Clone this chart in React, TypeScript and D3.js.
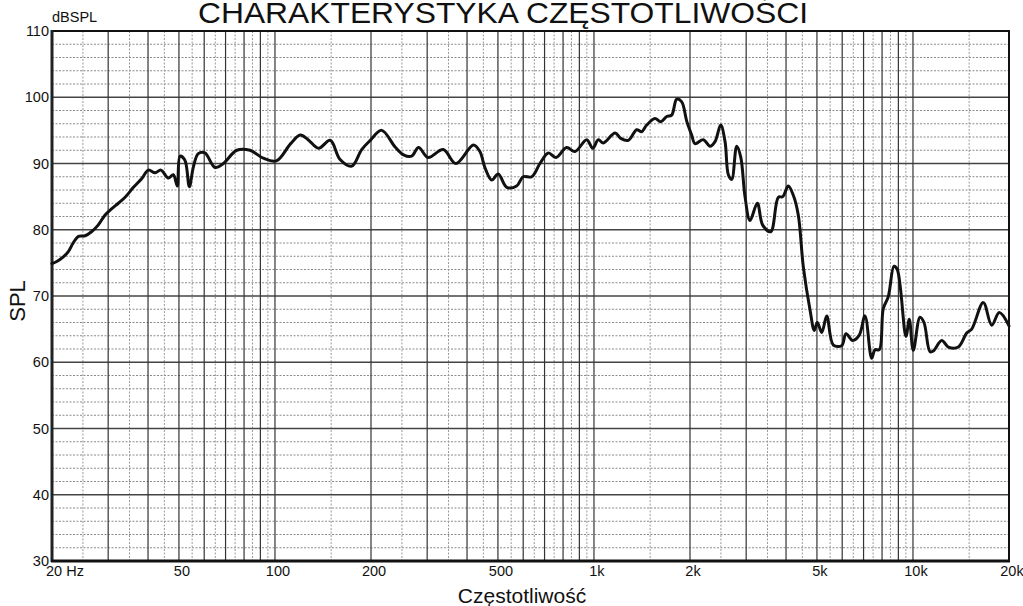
import React from 'react';
import * as d3 from 'd3';

const freqHz = [
  20, 20.7, 21.7, 22.5, 23.3, 24.2, 25.4, 26.6, 27.9, 29.3, 30.8, 32.3, 33.9, 36, 38.2, 40.1,
  42.1, 43.9, 46.3, 48, 49.4, 50.4, 52.2, 53.9, 55.5, 57.5, 60.3, 64.9, 68.9, 75.9, 83.5, 91.9,
  101, 112, 120, 127, 137, 149, 160, 174, 187, 199, 216, 238, 253, 268, 282, 302, 337, 369,
  419, 439, 455, 478, 501, 533, 572, 600, 638, 677, 719, 760, 821, 872, 949, 991, 1032, 1070,
  1164, 1213, 1281, 1361, 1411, 1463, 1553, 1619, 1691, 1752, 1817, 1884, 1953, 2024, 2074,
  2202, 2311, 2396, 2496, 2576, 2638, 2703, 2802, 2884, 2975, 3084, 3251, 3380, 3581, 3783,
  3906, 4066, 4216, 4371, 4532, 4757, 4906, 5013, 5177, 5366, 5628, 5978, 6167, 6471, 6787,
  7072, 7422, 7602, 7842, 8071, 8368, 8720, 8930, 9508, 9737, 10023, 10520, 10828, 11308,
  11580, 12304, 12906, 13873, 14738, 15280, 16614, 17652, 18648, 20000,
];
const splDb = [
  74.9, 75.2, 75.9, 76.7, 78.0, 79.0, 79.1, 79.7, 80.7, 82.2, 83.2, 84.0, 84.9, 86.4, 87.7, 89.0,
  88.6, 89.0, 87.8, 88.3, 86.6, 91.1, 90.5, 86.5, 89.5, 91.5, 91.6, 89.4, 90.0, 92.0, 92.0, 90.8,
  90.4, 93.0, 94.3, 93.6, 92.3, 93.5, 90.6, 89.6, 92.1, 93.5, 95.0, 92.5, 91.3, 91.1, 92.4, 90.9, 92.1, 90.0,
  92.8, 91.8, 89.4, 87.5, 88.4, 86.4, 86.6, 88.0, 88.0, 90.0, 91.6, 90.9, 92.4, 91.8, 93.6, 92.3, 93.6, 93.1,
  94.6, 93.8, 93.5, 95.1, 94.8, 95.8, 96.8, 96.3, 97.1, 97.3, 99.7, 99.3, 96.4, 94.3, 93.0,
  93.6, 92.6, 93.3, 95.8, 93.3, 88.3, 87.6, 92.6, 91.0, 85.0, 81.4, 84.0, 80.7, 79.7, 84.9,
  85.0, 86.6, 85.2, 82.2, 74.4, 67.9, 64.8, 66.0, 64.5, 67.0, 62.6, 62.5, 64.3, 63.3, 64.1,
  67.0, 60.6, 61.9, 61.9, 68.1, 69.9, 74.5, 74.0, 63.9, 66.5, 61.8, 66.8, 66.0, 61.6,
  61.7, 63.3, 62.3, 62.3, 64.4, 65.0, 69.0, 65.6, 67.5, 65.5,
];

const xTickValues = [20, 50, 100, 200, 500, 1000, 2000, 5000, 10000, 20000];
const xTickLabels = ['20 Hz', '50', '100', '200', '500', '1k', '2k', '5k', '10k', '20k'];
const yTickValues = [30, 40, 50, 60, 70, 80, 90, 100, 110];

const FONT = '"Liberation Sans", Arial, sans-serif';

export default function App() {
  const width = 1023;
  const height = 606;
  const left = 52, right = 1009, top = 31, bottom = 561;

  const x = d3.scaleLog().domain([20, 20000]).range([left, right]);
  const y = d3.scaleLinear().domain([30, 110]).range([bottom, top]);

  // grid lines: solid at 2..9 x decade, dotted halfway between
  const solidX: number[] = [];
  const dottedX: number[] = [];
  [10, 100, 1000, 10000].forEach(dec => {
    for (let k = 1; k <= 9; k++) {
      const f = k * dec;
      if (f > 20 && f < 20000) solidX.push(f);
      const h = (k + 0.5) * dec;
      if (h > 20 && h < 20000) dottedX.push(h);
    }
  });
  const dottedY = d3.range(32, 110, 2).filter(v => v % 10 !== 0);

  const line = d3.line<number>()
    .x((_, i) => x(freqHz[i]))
    .y(d => y(d))
    .curve(d3.curveCatmullRom.alpha(0.5));

  return (
    <svg width={width} height={height} style={{ position: 'absolute', left: 0, top: 0, background: '#fff' }}
      fontFamily={FONT}>
      <rect x={0} y={0} width={width} height={height} fill="#fff" />

      {/* dotted minor grid */}
      {dottedY.map(v => (
        <line key={'dy' + v} x1={left} x2={right} y1={y(v)} y2={y(v)}
          stroke="#8a8a8a" strokeWidth={1} strokeDasharray="2,1.5" />
      ))}
      {dottedX.map(f => (
        <line key={'dx' + f} x1={x(f)} x2={x(f)} y1={top} y2={bottom}
          stroke="#9a9a9a" strokeWidth={1} strokeDasharray="2,1.5" />
      ))}

      {/* solid major grid */}
      {yTickValues.slice(1, -1).map(v => (
        <line key={'sy' + v} x1={left} x2={right} y1={y(v)} y2={y(v)}
          stroke="#444" strokeWidth={1.3} />
      ))}
      {solidX.map(f => (
        <line key={'sx' + f} x1={x(f)} x2={x(f)} y1={top} y2={bottom}
          stroke="#333" strokeWidth={1.2} />
      ))}

      {/* frame */}
      <rect x={left} y={top} width={right - left} height={bottom - top}
        fill="none" stroke="#111" strokeWidth={2} />
      <line x1={left} x2={left} y1={top - 1} y2={bottom + 1} stroke="#222" strokeWidth={3} />
      <line x1={left - 1} x2={right + 1} y1={bottom} y2={bottom} stroke="#111" strokeWidth={3} />

      {/* response curve */}
      <path d={line(splDb) || ''} fill="none" stroke="#111" strokeWidth={3}
        strokeLinejoin="round" strokeLinecap="round" />

      {/* y tick labels */}
      {yTickValues.map(v => (
        <text key={'yl' + v} x={49} y={y(v) + 5} textAnchor="end" fontSize={14.5} fill="#111">{v}</text>
      ))}

      {/* x tick labels */}
      {xTickValues.map((f, i) => (
        i === 0
          ? <text key={'xl' + f} x={46} y={576} textAnchor="start" fontSize={14.5} fill="#111">{xTickLabels[i]}</text>
          : <text key={'xl' + f} x={x(f) + 3} y={576} textAnchor="middle" fontSize={14.5} fill="#111">{xTickLabels[i]}</text>
      ))}

      {/* labels */}
      <text x={52} y={22} fontSize={14.5} fill="#111">dBSPL</text>
      <text transform="translate(25,301) rotate(-90)" textAnchor="middle" fontSize={22} fill="#111">SPL</text>
      <text x={522} y={603} textAnchor="middle" fontSize={21} fill="#111">Częstotliwość</text>
      <text x={198} y={23} fontSize={30} textLength={610} lengthAdjust="spacingAndGlyphs" fill="#111">
        CHARAKTERYSTYKA CZĘSTOTLIWOŚCI
      </text>
    </svg>
  );
}
